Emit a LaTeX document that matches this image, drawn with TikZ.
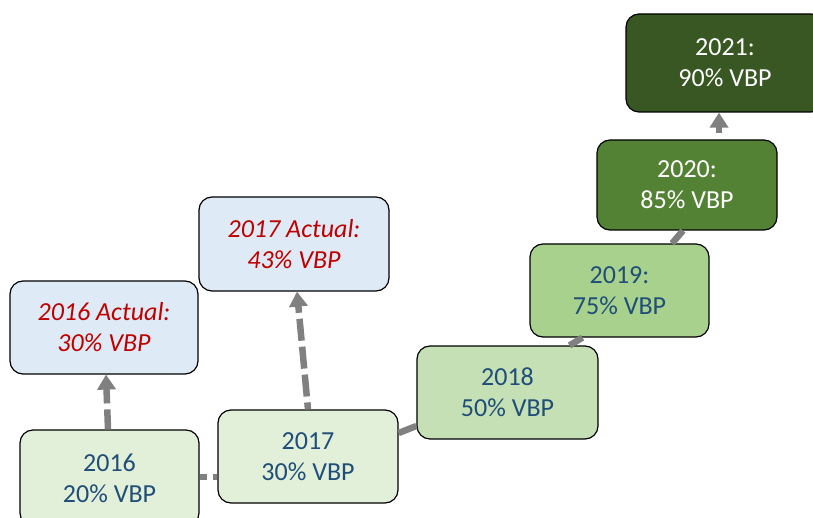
\documentclass[tikz,border=0pt]{standalone}
\usepackage{fontspec}
\setmainfont{Carlito}
\usetikzlibrary{arrows.meta}

\definecolor{actualfill}{HTML}{DEEBF7}
\definecolor{actualtext}{HTML}{C00000}
\definecolor{goaltext}{HTML}{1F4E79}
\definecolor{paleG}{HTML}{E2F0D9}
\definecolor{lightG}{HTML}{C5E0B4}
\definecolor{midG}{HTML}{A9D18E}
\definecolor{darkG}{HTML}{548235}
\definecolor{deepG}{HTML}{385723}
\definecolor{linkgray}{HTML}{808080}

\tikzset{
  box/.style={draw=black, line width=1.2pt, rounded corners=13pt,
    inner sep=0pt, align=center, minimum width=180pt, minimum height=93pt,
    font=\fontsize{26}{31}\selectfont},
  actual/.style={box, fill=actualfill, text=actualtext, font=\fontsize{26}{31}\selectfont\itshape},
  goal/.style={box, text=goaltext},
  darkgoal/.style={box, text=white},
  link/.style={draw=linkgray, line width=6.5pt},
  dashlink/.style={link, dash pattern=on 22pt off 6pt},
  uparrow/.style={-{Triangle[length=15pt,width=18pt]}},
}

\begin{document}
\begin{tikzpicture}[x=1pt, y=-1pt]
  \useasboundingbox (0,0) rectangle (813,518);
  \clip (0,0) rectangle (813,518);

  % yearly targets
  \node[goal, fill=paleG, minimum width=179pt, minimum height=96pt] (b16) at (109.5,478) {2016\\20\% VBP};
  \node[goal, fill=paleG] (b17) at (308,456.5) {2017\\30\% VBP};
  \node[goal, fill=lightG, minimum width=181pt] (b18) at (507.5,392.5) {2018\\50\% VBP};
  \node[goal, fill=midG, minimum width=179pt] (b19) at (619.5,290.5) {2019:\\75\% VBP};
  \node[darkgoal, fill=darkG, minimum height=90pt] (b20) at (687,185) {2020:\\85\% VBP};
  \node[darkgoal, fill=deepG, minimum width=198pt, minimum height=98pt] (b21) at (725,63) {2021:\\90\% VBP};

  % actual results
  \node[actual, minimum width=188pt] (a16) at (104,327.5) {2016 Actual:\\30\% VBP};
  \node[actual, minimum width=190pt, minimum height=94pt] (a17) at (294,244) {2017 Actual:\\43\% VBP};

  % links between targets
  \draw[dashlink, dash phase=0pt, dash pattern=on 7pt off 6pt]
    ([yshift=1pt]b16.east) -- ([yshift=-20.5pt]b17.west);
  \draw[link] ([yshift=23.5pt]b17.east) -- ([yshift=-33.5pt]b18.west);
  \draw[link] ([xshift=62pt]b18.north) -- ([xshift=-37pt]b19.south);
  \draw[link] ([xshift=52.5pt]b19.north) -- ([xshift=-4pt]b20.south);
  \draw[link, uparrow] ([xshift=32pt,yshift=6pt]b20.north) -- ([xshift=-6pt]b21.south);

  % links from targets to actual results
  \draw[dashlink, dash phase=2pt, uparrow] ([xshift=-1.5pt]b16.north) -- ([xshift=2pt]a16.south);
  \draw[dashlink, dash phase=15pt, uparrow] (b17.north) -- ([xshift=3pt]a17.south);
\end{tikzpicture}
\end{document}
